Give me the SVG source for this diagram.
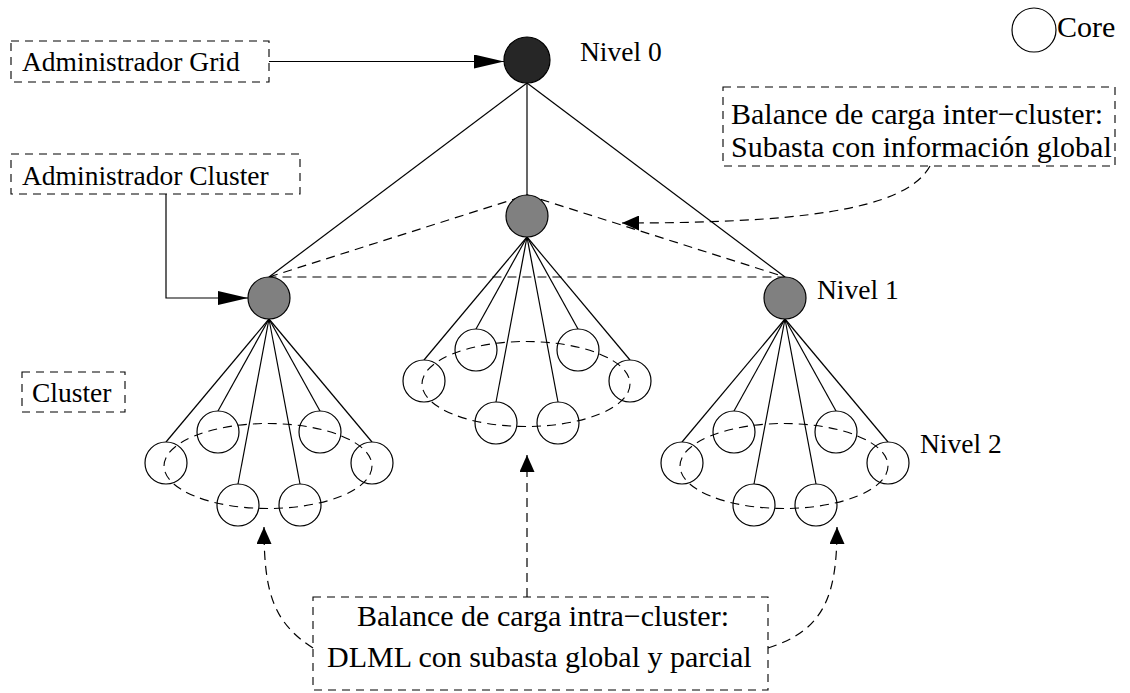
<svg xmlns="http://www.w3.org/2000/svg" width="1130" height="693" viewBox="0 0 1130 693">
  <style>
    .t { font-family: "Liberation Serif", "Times New Roman", serif; fill: #000; }
    .s { font-size: 27.5px; }
    .b { font-size: 30px; }
    .box { fill: none; stroke: #000; stroke-width: 1.1; stroke-dasharray: 8 6; }
    .edge { fill: none; stroke: #000; stroke-width: 1.2; }
    .dash { stroke-dasharray: 9 6; }
    .node { stroke: #000; stroke-width: 1.2; }
    .core { fill: #fff; }
    .lvl1 { fill: #808080; }
    .root { fill: #262626; }
    .ring { fill: none; stroke: #000; stroke-width: 1.1; stroke-dasharray: 9 6; }
  </style>
  <defs>
    <marker id="headBig" markerUnits="userSpaceOnUse" markerWidth="30" markerHeight="14" refX="30" refY="7" orient="auto">
      <path d="M0 0 L30 7 L0 14 Z" fill="#000"/>
    </marker>
    <marker id="headSmall" markerUnits="userSpaceOnUse" markerWidth="17" markerHeight="15" refX="17" refY="7.5" orient="auto">
      <path d="M0 0 L17 7.5 L0 15 Z" fill="#000"/>
    </marker>
  </defs>

  <rect width="1130" height="693" fill="#fff"/>

  <!-- connectors -->
  <g id="connectors">
    <!-- root to level 1 -->
    <line class="edge" x1="527" y1="83" x2="269" y2="277"/>
    <line class="edge" x1="527" y1="83" x2="527" y2="195"/>
    <line class="edge" x1="527" y1="83" x2="785" y2="277"/>
    <!-- inter-cluster links -->
    <path class="edge dash" d="M269 277 L527 195 L785 277 Z"/>

    <!-- left cluster fan -->
    <line class="edge" x1="269" y1="319" x2="166" y2="442"/>
    <line class="edge" x1="269" y1="319" x2="218" y2="411"/>
    <line class="edge" x1="269" y1="319" x2="238" y2="484"/>
    <line class="edge" x1="269" y1="319" x2="300" y2="484"/>
    <line class="edge" x1="269" y1="319" x2="320" y2="411"/>
    <line class="edge" x1="269" y1="319" x2="372" y2="442"/>
    <!-- centre cluster fan -->
    <line class="edge" x1="527" y1="237" x2="424" y2="360"/>
    <line class="edge" x1="527" y1="237" x2="476" y2="329"/>
    <line class="edge" x1="527" y1="237" x2="496" y2="402"/>
    <line class="edge" x1="527" y1="237" x2="558" y2="402"/>
    <line class="edge" x1="527" y1="237" x2="578" y2="329"/>
    <line class="edge" x1="527" y1="237" x2="630" y2="360"/>
    <!-- right cluster fan -->
    <line class="edge" x1="785" y1="319" x2="682" y2="442"/>
    <line class="edge" x1="785" y1="319" x2="734" y2="411"/>
    <line class="edge" x1="785" y1="319" x2="754" y2="484"/>
    <line class="edge" x1="785" y1="319" x2="816" y2="484"/>
    <line class="edge" x1="785" y1="319" x2="836" y2="411"/>
    <line class="edge" x1="785" y1="319" x2="888" y2="442"/>

    <!-- manager pointers -->
    <line class="edge" x1="269" y1="61.5" x2="504" y2="61.5" marker-end="url(#headBig)"/>
    <path class="edge" d="M166 194 V298 H248" marker-end="url(#headBig)"/>

    <!-- load-balancing pointers -->
    <path class="edge dash" d="M930 166 C905 212 790 223 622 223" marker-end="url(#headSmall)"/>
    <path class="edge dash" d="M313 648 C272 622 264 590 264 527" marker-end="url(#headSmall)"/>
    <path class="edge dash" d="M527 597 V455" marker-end="url(#headSmall)"/>
    <path class="edge dash" d="M768 648 C825 630 837 595 837 527" marker-end="url(#headSmall)"/>
  </g>

  <!-- root -->
  <g id="n-root"><circle class="node root" cx="527" cy="60" r="23"/></g>

  <!-- level 1 -->
  <g id="n-l1-left"><circle class="node lvl1" cx="269" cy="298" r="21"/></g>
  <g id="n-l1-centre"><circle class="node lvl1" cx="527" cy="216" r="21"/></g>
  <g id="n-l1-right"><circle class="node lvl1" cx="785" cy="298" r="21"/></g>

  <!-- left cluster cores -->
  <g id="n-left-1"><circle class="node core" cx="166" cy="463" r="21"/></g>
  <g id="n-left-2"><circle class="node core" cx="218" cy="432" r="21"/></g>
  <g id="n-left-3"><circle class="node core" cx="238" cy="505" r="21"/></g>
  <g id="n-left-4"><circle class="node core" cx="300" cy="505" r="21"/></g>
  <g id="n-left-5"><circle class="node core" cx="320" cy="432" r="21"/></g>
  <g id="n-left-6"><circle class="node core" cx="372" cy="463" r="21"/></g>
  <ellipse class="ring" cx="268" cy="466" rx="104" ry="42.5"/>

  <!-- centre cluster cores -->
  <g id="n-centre-1"><circle class="node core" cx="424" cy="381" r="21"/></g>
  <g id="n-centre-2"><circle class="node core" cx="476" cy="350" r="21"/></g>
  <g id="n-centre-3"><circle class="node core" cx="496" cy="423" r="21"/></g>
  <g id="n-centre-4"><circle class="node core" cx="558" cy="423" r="21"/></g>
  <g id="n-centre-5"><circle class="node core" cx="578" cy="350" r="21"/></g>
  <g id="n-centre-6"><circle class="node core" cx="630" cy="381" r="21"/></g>
  <ellipse class="ring" cx="526" cy="384" rx="104" ry="42.5"/>

  <!-- right cluster cores -->
  <g id="n-right-1"><circle class="node core" cx="682" cy="463" r="21"/></g>
  <g id="n-right-2"><circle class="node core" cx="734" cy="432" r="21"/></g>
  <g id="n-right-3"><circle class="node core" cx="754" cy="505" r="21"/></g>
  <g id="n-right-4"><circle class="node core" cx="816" cy="505" r="21"/></g>
  <g id="n-right-5"><circle class="node core" cx="836" cy="432" r="21"/></g>
  <g id="n-right-6"><circle class="node core" cx="888" cy="463" r="21"/></g>
  <ellipse class="ring" cx="784" cy="466" rx="104" ry="42.5"/>

  <!-- level labels -->
  <text class="t s" x="580" y="61">Nivel 0</text>
  <text class="t s" x="817" y="299">Nivel 1</text>
  <text class="t s" x="920" y="453">Nivel 2</text>

  <!-- legend -->
  <g id="legend">
    <circle class="node core" cx="1034" cy="30" r="22"/>
    <text class="t b" x="1057" y="37">Core</text>
  </g>

  <!-- annotation boxes -->
  <g id="box-grid">
    <rect class="box" x="11" y="41" width="258" height="41"/>
    <text class="t s" x="22" y="71">Administrador Grid</text>
  </g>
  <g id="box-cluster-admin">
    <rect class="box" x="11" y="154" width="289" height="40"/>
    <text class="t s" x="22" y="185">Administrador Cluster</text>
  </g>
  <g id="box-cluster">
    <rect class="box" x="22" y="372" width="103" height="40"/>
    <text class="t s" x="32" y="402">Cluster</text>
  </g>
  <g id="box-inter">
    <rect class="box" x="723" y="87" width="392" height="79"/>
    <text class="t b" x="731" y="124">Balance de carga inter−cluster:</text>
    <text class="t b" x="731" y="157">Subasta con información global</text>
  </g>
  <g id="box-intra">
    <rect class="box" x="313" y="597" width="455" height="93"/>
    <text class="t b" x="357" y="626">Balance de carga intra−cluster:</text>
    <text class="t b" x="327" y="667">DLML con subasta global y parcial</text>
  </g>
</svg>
